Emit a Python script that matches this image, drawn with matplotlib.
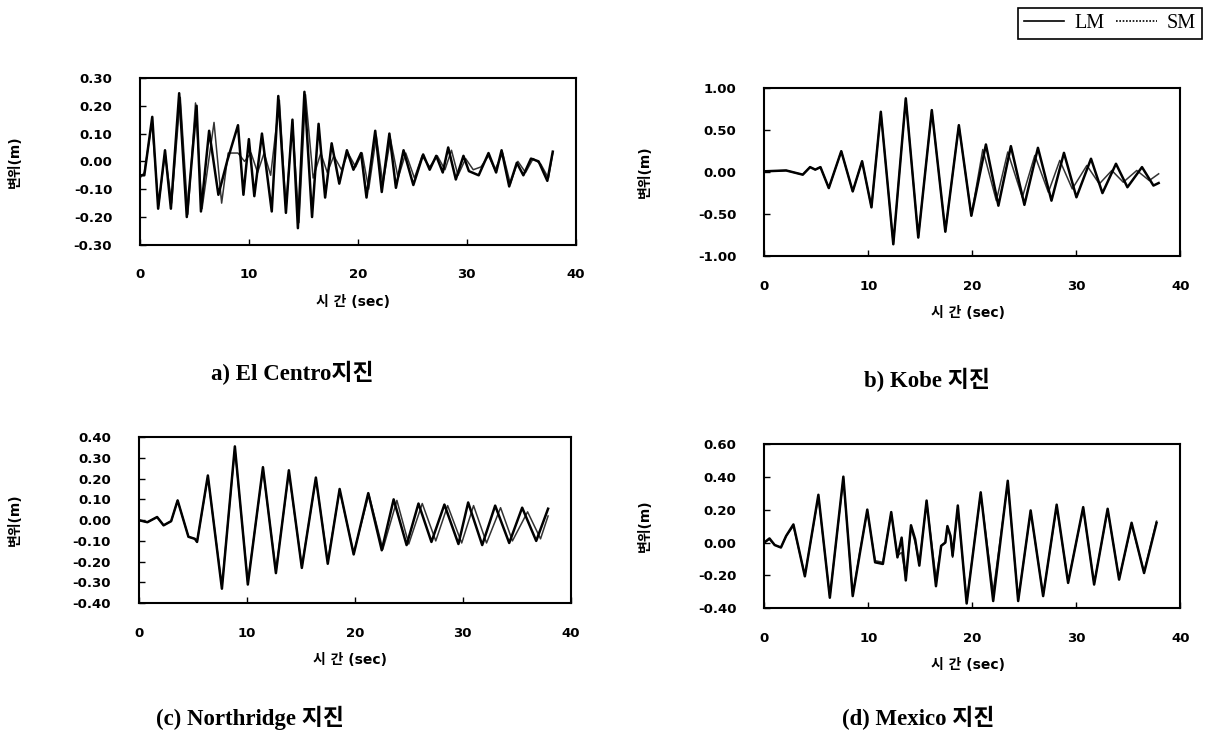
import matplotlib
matplotlib.use('Agg')
import matplotlib.pyplot as plt
from matplotlib.lines import Line2D

plt.rcParams['font.family'] = ['DejaVu Sans', 'Noto Sans CJK KR']
plt.rcParams['axes.unicode_minus'] = False

# a) El Centro
elc_t_lm = [0, 0.4, 1.13, 1.67, 2.3, 2.84, 3.6, 4.3, 5.2, 5.6, 6.35, 7.2, 8.0, 9.0, 9.5, 10.0,
            10.5, 11.2, 12.1, 12.7, 13.4, 14.0, 14.5, 15.1, 15.8, 16.4, 17.0, 17.6, 18.3, 19.0,
            19.6, 20.3, 20.8, 21.6, 22.2, 22.9, 23.5, 24.2, 25.1, 26.0, 26.6, 27.2, 27.8, 28.3,
            29.0, 29.7, 30.2, 31.1, 32.0, 32.7, 33.2, 33.9, 34.6, 35.2, 35.9, 36.6, 37.4, 37.9]
elc_lm = [-0.05, -0.05, 0.16, -0.17, 0.04, -0.17, 0.245, -0.20, 0.20, -0.18, 0.11, -0.12, 0.0,
          0.13, -0.12, 0.08, -0.125, 0.10, -0.18, 0.235, -0.185, 0.15, -0.24, 0.25, -0.20, 0.135,
          -0.13, 0.065, -0.08, 0.04, -0.03, 0.03, -0.13, 0.11, -0.11, 0.10, -0.095, 0.04, -0.085,
          0.025, -0.03, 0.02, -0.04, 0.05, -0.065, 0.02, -0.035, -0.05, 0.03, -0.04, 0.04, -0.09,
          -0.005, -0.05, 0.01, 0.0, -0.07, 0.035]
elc_t_sm = [0, 0.4, 1.1, 1.7, 2.3, 2.9, 3.7, 4.4, 5.1, 5.7, 6.8, 7.5, 8.1, 9.0, 9.6, 10.2, 10.8,
            11.4, 12.0, 12.8, 13.4, 14.0, 14.6, 15.2, 15.9, 16.6, 17.2, 17.8, 18.5, 19.1, 19.8,
            20.4, 21.0, 21.7, 22.3, 23.0, 23.7, 24.4, 25.2, 25.9, 26.6, 27.3, 28.0, 28.6, 29.2,
            29.9, 30.6, 31.3, 32.0, 32.6, 33.3, 34.0, 34.7, 35.4, 36.1, 36.8, 37.5, 37.9]
elc_sm = [-0.06, -0.04, 0.14, -0.16, 0.03, -0.15, 0.23, -0.19, 0.21, -0.17, 0.14, -0.15, 0.03,
          0.03, 0.0, 0.03, -0.04, 0.03, -0.05, 0.22, -0.17, 0.14, -0.22, 0.24, -0.06, 0.03,
          -0.04, 0.02, -0.03, 0.03, -0.02, 0.03, -0.10, 0.09, -0.08, 0.08, -0.06, 0.03, -0.06,
          0.02, -0.02, 0.02, -0.03, 0.04, -0.05, 0.01, -0.03, -0.02, 0.02, -0.03, 0.03, -0.08,
          0.0, -0.04, 0.01, -0.01, -0.06, 0.03]

# b) Kobe
kobe_t_lm = [0, 2.1, 3.7, 4.4, 4.9, 5.4, 6.2, 7.4, 8.5, 9.4, 10.3, 11.2, 12.4, 13.6, 14.8, 16.1,
             17.4, 18.7, 19.9, 21.3, 22.5, 23.7, 25.0, 26.3, 27.6, 28.8, 30.0, 31.4, 32.5, 33.8,
             34.9, 36.3, 37.4, 37.9]
kobe_lm = [0.01, 0.02, -0.03, 0.06, 0.03, 0.06, -0.19, 0.25, -0.23, 0.13, -0.42, 0.72, -0.86,
           0.88, -0.78, 0.74, -0.71, 0.56, -0.52, 0.33, -0.40, 0.31, -0.39, 0.29, -0.34, 0.23,
           -0.30, 0.16, -0.25, 0.10, -0.18, 0.06, -0.16, -0.13]
kobe_t_sm = [0, 2.1, 3.7, 4.4, 4.9, 5.4, 6.2, 7.4, 8.5, 9.4, 10.3, 11.2, 12.4, 13.6, 14.8, 16.1,
             17.4, 18.7, 19.9, 21.0, 22.3, 23.4, 24.8, 26.0, 27.3, 28.4, 29.6, 31.0, 32.2, 33.4,
             34.5, 35.8, 37.0, 37.9]
kobe_sm = [0.01, 0.02, -0.03, 0.06, 0.03, 0.06, -0.19, 0.25, -0.23, 0.13, -0.42, 0.72, -0.86,
           0.88, -0.78, 0.74, -0.71, 0.56, -0.52, 0.27, -0.34, 0.24, -0.30, 0.20, -0.24, 0.14,
           -0.20, 0.08, -0.14, 0.02, -0.12, 0.02, -0.10, -0.02]

# c) Northridge
nor_t_lm = [0, 0.8, 1.7, 2.3, 3.0, 3.6, 4.6, 5.2, 5.4, 6.4, 7.7, 8.9, 10.1, 11.5, 12.7, 13.9,
            15.1, 16.4, 17.5, 18.6, 19.9, 21.25, 22.5, 23.6, 24.8, 25.9, 27.1, 28.3, 29.6, 30.5,
            31.8, 33.0, 34.3, 35.5, 36.8, 37.9]
nor_lm = [0, -0.01, 0.015, -0.025, -0.005, 0.095, -0.08, -0.09, -0.105, 0.215, -0.33, 0.355,
          -0.31, 0.255, -0.255, 0.24, -0.23, 0.205, -0.21, 0.15, -0.165, 0.13, -0.145, 0.10,
          -0.12, 0.08, -0.105, 0.075, -0.115, 0.085, -0.12, 0.07, -0.11, 0.06, -0.10, 0.055]
nor_t_sm = [0, 0.8, 1.7, 2.3, 3.0, 3.6, 4.6, 5.2, 5.4, 6.4, 7.7, 8.9, 10.1, 11.5, 12.7, 13.9,
            15.1, 16.4, 17.5, 18.6, 19.9, 21.3, 22.6, 23.9, 25.0, 26.25, 27.5, 28.6, 29.9, 31.0,
            32.2, 33.5, 34.6, 36.0, 37.2, 37.9]
nor_sm = [0, -0.01, 0.015, -0.025, -0.005, 0.095, -0.08, -0.09, -0.105, 0.21, -0.32, 0.345,
          -0.30, 0.245, -0.245, 0.23, -0.225, 0.20, -0.20, 0.145, -0.16, 0.125, -0.14, 0.095,
          -0.115, 0.08, -0.10, 0.07, -0.11, 0.07, -0.11, 0.06, -0.10, 0.04, -0.09, 0.02]

# d) Mexico
mex_t = [0, 0.5, 1.0, 1.6, 2.1, 2.8, 3.9, 5.2, 6.3, 7.6, 8.5, 9.2, 9.9, 10.65, 11.4, 12.2, 12.8,
         13.2, 13.6, 14.1, 14.5, 14.9, 15.6, 16.5, 17.0, 17.4, 17.6, 17.9, 18.1, 18.6, 19.45,
         20.8, 22.0, 23.4, 24.4, 25.6, 26.8, 28.1, 29.2, 30.65, 31.7, 33.0, 34.1, 35.3, 36.5, 37.7]
mex_lm = [0, 0.025, -0.015, -0.03, 0.04, 0.11, -0.205, 0.29, -0.335, 0.40, -0.325, -0.06, 0.20,
          -0.12, -0.13, 0.185, -0.09, 0.03, -0.23, 0.105, 0.02, -0.14, 0.255, -0.265, -0.02, 0.0,
          0.10, 0.04, -0.08, 0.225, -0.37, 0.305, -0.355, 0.375, -0.355, 0.195, -0.325, 0.23,
          -0.245, 0.215, -0.255, 0.205, -0.225, 0.12, -0.185, 0.12]
mex_sm = [0, 0.02, -0.015, -0.03, 0.04, 0.10, -0.20, 0.28, -0.33, 0.39, -0.32, -0.05, 0.19,
          -0.11, -0.12, 0.18, -0.08, -0.06, -0.21, 0.09, 0.0, -0.13, 0.25, -0.22, -0.02, 0.0,
          0.09, 0.03, -0.09, 0.21, -0.36, 0.30, -0.30, 0.36, -0.35, 0.19, -0.32, 0.22, -0.24,
          0.21, -0.25, 0.20, -0.22, 0.11, -0.18, 0.13]

panels = [
    (elc_t_lm, elc_lm, elc_t_sm, elc_sm, [0.115, 0.670, 0.358, 0.225], (-0.3, 0.3),
     [-0.3, -0.2, -0.1, 0.0, 0.1, 0.2, 0.3], 'a) El Centro지진', (292, 373)),
    (kobe_t_lm, kobe_lm, kobe_t_sm, kobe_sm, [0.628, 0.655, 0.342, 0.226], (-1.0, 1.0),
     [-1.0, -0.5, 0.0, 0.5, 1.0], 'b) Kobe 지진', (927, 380)),
    (nor_t_lm, nor_lm, nor_t_sm, nor_sm, [0.114, 0.187, 0.355, 0.224], (-0.4, 0.4),
     [-0.4, -0.3, -0.2, -0.1, 0.0, 0.1, 0.2, 0.3, 0.4], '(c) Northridge 지진', (250, 718)),
    (mex_t, mex_lm, mex_t, mex_sm, [0.628, 0.180, 0.342, 0.222], (-0.4, 0.6),
     [-0.4, -0.2, 0.0, 0.2, 0.4, 0.6], '(d) Mexico 지진', (918, 718)),
]

serif = ['Liberation Serif', 'Noto Sans CJK KR']

fig = plt.figure(figsize=(12.17, 7.42), dpi=100)
for t_lm, lm, t_sm, sm, pos, ylim, yticks, caption, cpos in panels:
    ax = fig.add_axes(pos)
    ax.plot(t_sm, sm, color='#333333', lw=1.1)
    ax.plot(t_lm, lm, color='black', lw=1.8)
    ax.set_xlim(0, 40)
    ax.set_ylim(*ylim)
    ax.set_xticks([0, 10, 20, 30, 40])
    ax.set_yticks(yticks)
    ax.set_yticklabels(['%.2f' % v for v in yticks])
    ax.tick_params(direction='in', length=4, width=1, top=False, right=False,
                   labelsize=9.5)
    ax.tick_params(axis='y', pad=20)
    ax.tick_params(axis='x', pad=17)
    for lab in ax.get_xticklabels() + ax.get_yticklabels():
        lab.set_fontweight('bold')
    for sp in ax.spines.values():
        sp.set_linewidth(1.5)
    ax.set_ylabel('변위(m)', fontsize=10, fontweight='bold')
    ax.yaxis.set_label_coords(-0.27, 0.5)
    ax.set_xlabel('시 간 (sec)', fontsize=10, fontweight='bold')
    ax.xaxis.set_label_coords(0.49, -0.30)
    fig.text(cpos[0] / 1217, 1 - cpos[1] / 742, caption, family=serif, fontsize=16.5,
             fontweight='bold', ha='center', va='center')

handles = [Line2D([], [], color='black', lw=1.2),
           Line2D([], [], color='black', lw=1.2, ls=(0, (1, 1)))]
leg = fig.legend(handles, ['LM', 'SM'], loc='upper right', ncol=2,
                 bbox_to_anchor=(1202 / 1217, 1 - 8 / 742), borderaxespad=0,
                 prop={'family': 'Liberation Serif', 'size': 14.5},
                 fancybox=False, edgecolor='black', framealpha=1,
                 handlelength=2.0, handletextpad=0.5, columnspacing=0.6,
                 borderpad=0.3)
leg.get_frame().set_linewidth(1.2)

fig.savefig('out.png', dpi=100)
